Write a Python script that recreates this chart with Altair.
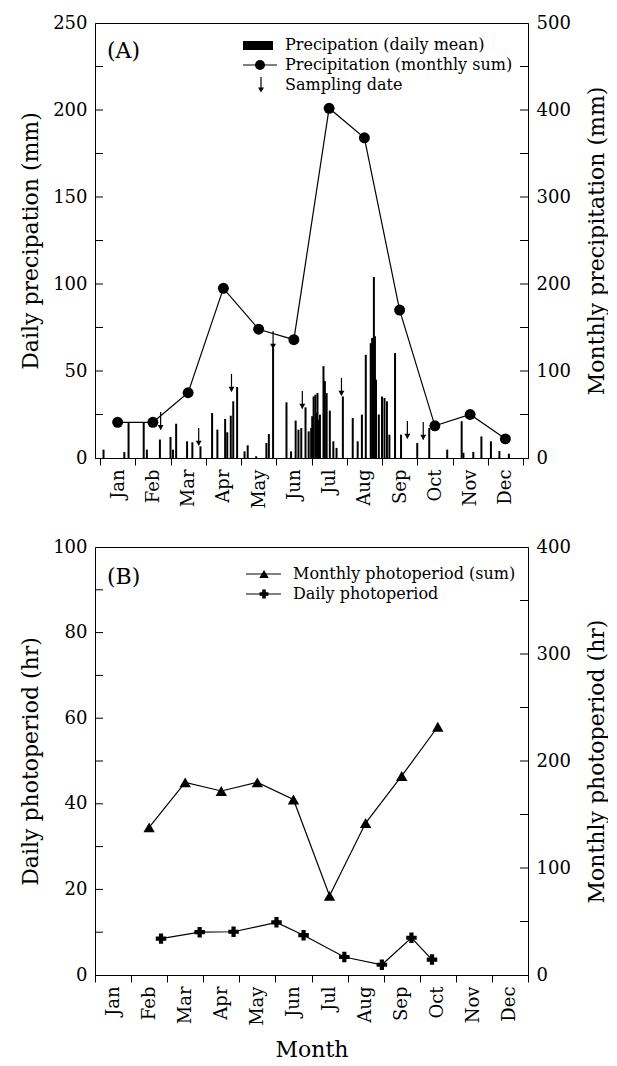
import altair as alt
import pandas as pd

FONT = "DejaVu Serif"
W = 433
H_TOP = 435
H_BOT = 428

months = ["Jan", "Feb", "Mar", "Apr", "May", "Jun", "Jul", "Aug", "Sep", "Oct", "Nov", "Dec"]
month_index = list(range(12))

# ---- Panel A data ----
monthly_precip = [41, 41, 75, 195, 148, 136, 402, 368, 170, 37, 50, 22]

daily_pos = [0.10, 0.69, 0.81, 1.24, 1.33, 1.70, 2.00, 2.07, 2.16, 2.47, 2.62, 2.85,
             3.18, 3.33, 3.55, 3.61, 3.71, 3.78, 3.89, 4.10, 4.19, 4.43, 4.72, 4.79,
             4.91, 5.29, 5.42, 5.55, 5.63, 5.71, 5.83, 5.92, 5.99, 6.02, 6.06, 6.11,
             6.14, 6.17, 6.20, 6.24, 6.34, 6.38, 6.43, 6.52, 6.62, 6.71, 6.89, 7.17,
             7.31, 7.43, 7.54, 7.68, 7.72, 7.75, 7.77, 7.80, 7.83, 7.91, 8.00, 8.07,
             8.14, 8.21, 8.37, 8.54, 9.00, 9.34, 9.85, 10.26, 10.31, 10.59, 10.82,
             11.09, 11.33, 11.60]
daily_precip = [4.8, 3.4, 20.5, 20.5, 4.8, 10.6, 12.1, 4.8, 19.7, 9.6, 9.0, 6.7,
                25.8, 16.3, 22.4, 14.8, 24.3, 32.6, 40.8, 3.8, 7.3, 1.0, 8.6, 13.8,
                63.2, 32.0, 3.8, 21.5, 16.3, 17.2, 29.1, 15.3, 17.2, 24.0, 35.4, 36.4,
                26.0, 37.3, 22.0, 24.9, 52.8, 44.2, 37.3, 27.2, 9.6, 5.8, 35.4, 23.0,
                9.6, 24.9, 59.3, 66.0, 69.0, 60.0, 104.0, 70.0, 45.0, 25.0, 35.4, 34.5,
                32.6, 13.4, 60.3, 13.4, 8.6, 17.2, 4.8, 21.1, 3.0, 3.5, 12.4,
                9.6, 4.0, 2.5]

sample_pos = [1.72, 2.80, 3.73, 4.91, 5.74, 6.85, 8.72, 9.17]
sample_tip = [16.4, 7.3, 38.3, 63.0, 28.5, 36.0, 11.3, 10.7]

# ---- Panel B data ----
photo_month_idx = [1, 2, 3, 4, 5, 6, 7, 8, 9]
photo_monthly = [138, 180, 172, 180, 164, 74, 142, 186, 232]
photo_daily_pos = [1.83, 2.90, 3.84, 5.03, 5.78, 6.91, 7.95, 8.77, 9.34]
photo_daily = [8.5, 10.0, 10.1, 12.3, 9.3, 4.2, 2.4, 8.7, 3.6]

legend_a = ["Precipation (daily mean)", "Precipitation (monthly sum)", "Sampling date"]
legend_b = ["Monthly photoperiod (sum)", "Daily photoperiod"]

df_monthly = pd.DataFrame({"m": month_index, "v": monthly_precip})
df_daily = pd.DataFrame({"pos": daily_pos, "v": daily_precip})
df_sample = pd.DataFrame({"pos": sample_pos, "tip": sample_tip})
df_pm = pd.DataFrame({"m": photo_month_idx, "v": photo_monthly})
df_pd = pd.DataFrame({"pos": photo_daily_pos, "v": photo_daily})
one = pd.DataFrame({"a": [0]})

label_expr = "[" + ",".join("'" + m + "'" for m in months) + ",''][datum.value]"

xscale = alt.Scale(domain=[0, 12], nice=False, zero=False)
LABEL_SIZE = 18
TITLE_SIZE = 22
LEG_SIZE = 16


def make_xaxis(title):
    return alt.Axis(values=list(range(13)), labelExpr=label_expr, labelAngle=270,
                    labelOffset=18, labelFlush=False, labelOverlap=False,
                    tickSize=7, labelPadding=4, grid=False, title=title, titlePadding=14)


def yaxis(values, title, orient):
    kw = dict(values=values, ticks=False, labelPadding=8, grid=False,
              title=title, orient=orient)
    if orient == "right":
        kw["titleAngle"] = 270
        kw["titleBaseline"] = "top"
        kw["titlePadding"] = 16
    else:
        kw["titlePadding"] = 10
    return alt.Axis(**kw)


def in_ticks(values, scale, side):
    df = pd.DataFrame({"t": values})
    if side == "left":
        xs = dict(x=alt.value(0), x2=alt.value(8))
    else:
        xs = dict(x=alt.value(W - 8), x2=alt.value(W))
    return alt.Chart(df).mark_rule(color="black", strokeWidth=1).encode(
        y=alt.Y("t:Q", scale=scale, axis=None), **xs)


def txt(s, x, y, size=LEG_SIZE):
    return alt.Chart(one).mark_text(align="left", baseline="middle", font=FONT,
                                    fontSize=size, color="black").encode(
        x=alt.value(x), y=alt.value(y), text=alt.value(s))


# ---------- Panel A ----------
XA = make_xaxis("")


def XAx(field):
    return alt.X(field, type="quantitative", scale=xscale, axis=XA)


yl_a = alt.Scale(domain=[0, 250], nice=False)
yr_a = alt.Scale(domain=[0, 500], nice=False)

bars = alt.Chart(df_daily).mark_bar(size=2, color="black").encode(
    x=XAx("pos"),
    y=alt.Y("v:Q", scale=yl_a, axis=yaxis([0, 50, 100, 150, 200, 250],
                                           "Daily precipation (mm)", "left")))
arrow_stem = alt.Chart(df_sample).transform_calculate(top="datum.tip + 10").mark_rule(
    color="black", strokeWidth=1.2).encode(
    x=XAx("pos"), y=alt.Y("tip:Q", scale=yl_a, axis=None), y2="top:Q")
arrow_head = alt.Chart(df_sample).mark_point(shape="triangle-down", filled=True, size=35,
                                             color="black", opacity=1, yOffset=-2).encode(
    x=XAx("pos"), y=alt.Y("tip:Q", scale=yl_a, axis=None))

line_a = alt.Chart(df_monthly).transform_calculate(c="datum.m + 0.5").mark_line(
    color="black", strokeWidth=1.2).encode(
    x=XAx("c"),
    y=alt.Y("v:Q", scale=yr_a, axis=yaxis([0, 100, 200, 300, 400, 500],
                                          "Monthly precipitation (mm)", "right")))
pts_a = alt.Chart(df_monthly).transform_calculate(c="datum.m + 0.5").mark_circle(
    color="black", opacity=1, size=120).encode(
    x=XAx("c"), y=alt.Y("v:Q", scale=yr_a, axis=None))

leg_a = [
    alt.Chart(one).mark_rect(color="black").encode(
        x=alt.value(148), x2=alt.value(178), y=alt.value(18), y2=alt.value(27)),
    txt(legend_a[0], 190, 22),
    alt.Chart(one).mark_rule(color="black", strokeWidth=1.2).encode(
        x=alt.value(148), x2=alt.value(182), y=alt.value(42)),
    alt.Chart(one).mark_circle(color="black", opacity=1, size=100).encode(
        x=alt.value(165), y=alt.value(42)),
    txt(legend_a[1], 190, 42),
    alt.Chart(one).mark_rule(color="black", strokeWidth=1.2).encode(
        x=alt.value(166), y=alt.value(54), y2=alt.value(68)),
    alt.Chart(one).mark_point(shape="triangle-down", filled=True, size=35, color="black",
                              opacity=1).encode(x=alt.value(166), y=alt.value(67)),
    txt(legend_a[2], 190, 62),
    txt("(A)", 12, 28, 22),
]

panel_a = alt.layer(
    bars, line_a, arrow_stem, arrow_head, pts_a,
    in_ticks([25, 50, 75, 100, 125, 150, 175, 200, 225], yl_a, "left"),
    in_ticks([50, 100, 150, 200, 250, 300, 350, 400, 450], yr_a, "right"),
    *leg_a
).resolve_scale(y="independent").properties(width=W, height=H_TOP)

# ---------- Panel B ----------
XB = make_xaxis("Month")


def XBx(field):
    return alt.X(field, type="quantitative", scale=xscale, axis=XB)


yl_b = alt.Scale(domain=[0, 100], nice=False)
yr_b = alt.Scale(domain=[0, 400], nice=False)

line_d = alt.Chart(df_pd).mark_line(color="black", strokeWidth=1.2).encode(
    x=XBx("pos"),
    y=alt.Y("v:Q", scale=yl_b, axis=yaxis([0, 20, 40, 60, 80, 100],
                                          "Daily photoperiod (hr)", "left")))
pts_d = alt.Chart(df_pd).mark_point(shape="cross", filled=True, size=110, color="black",
                                    opacity=1).encode(
    x=XBx("pos"), y=alt.Y("v:Q", scale=yl_b, axis=None))

line_m = alt.Chart(df_pm).transform_calculate(c="datum.m + 0.5").mark_line(
    color="black", strokeWidth=1.2).encode(
    x=XBx("c"),
    y=alt.Y("v:Q", scale=yr_b, axis=yaxis([0, 100, 200, 300, 400],
                                          "Monthly photoperiod (hr)", "right")))
pts_m = alt.Chart(df_pm).transform_calculate(c="datum.m + 0.5").mark_point(
    shape="triangle-up", filled=True, size=130, color="black", opacity=1).encode(
    x=XBx("c"), y=alt.Y("v:Q", scale=yr_b, axis=None))

leg_b = [
    alt.Chart(one).mark_rule(color="black", strokeWidth=1.2).encode(
        x=alt.value(151), x2=alt.value(186), y=alt.value(27)),
    alt.Chart(one).mark_point(shape="triangle-up", filled=True, size=90, color="black",
                              opacity=1).encode(x=alt.value(169), y=alt.value(27)),
    txt(legend_b[0], 198, 27),
    alt.Chart(one).mark_rule(color="black", strokeWidth=1.2).encode(
        x=alt.value(151), x2=alt.value(186), y=alt.value(47)),
    alt.Chart(one).mark_point(shape="cross", filled=True, size=80, color="black",
                              opacity=1).encode(x=alt.value(169), y=alt.value(47)),
    txt(legend_b[1], 198, 47),
    txt("(B)", 12, 30, 22),
]

panel_b = alt.layer(
    line_d, line_m, pts_d, pts_m,
    in_ticks([10, 20, 30, 40, 50, 60, 70, 80, 90], yl_b, "left"),
    in_ticks([50, 100, 150, 200, 250, 300, 350], yr_b, "right"),
    *leg_b
).resolve_scale(y="independent").properties(width=W, height=H_BOT)

chart = alt.vconcat(panel_a, panel_b, spacing=28).properties(
    padding={"left": 11, "top": 5, "right": 0, "bottom": 2}
).configure_axis(
    labelFont=FONT, titleFont=FONT, labelFontSize=LABEL_SIZE, titleFontSize=TITLE_SIZE,
    labelColor="black", titleColor="black", domainColor="black", tickColor="black",
    titleFontWeight="normal"
).configure_view(stroke="black", strokeWidth=1)

chart.save("out.html", embed_options={"renderer": "svg", "actions": False})
